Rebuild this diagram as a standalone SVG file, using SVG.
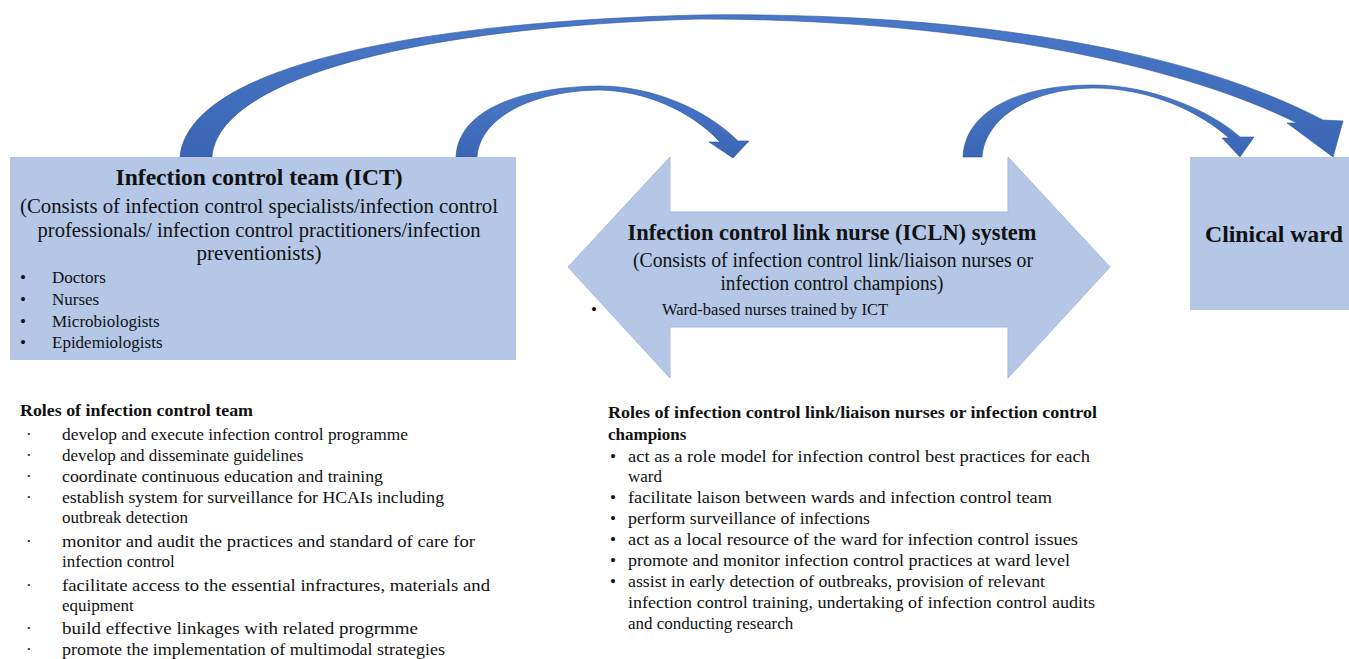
<svg xmlns="http://www.w3.org/2000/svg" width="1349" height="659" viewBox="0 0 1349 659">
<defs>
<linearGradient id="arcg" x1="0" y1="0" x2="0" y2="1">
<stop offset="0" stop-color="#4a78c8"/>
<stop offset="1" stop-color="#3a66b4"/>
</linearGradient>
</defs>
<style>
.box{fill:#b4c7e7;}
.dbl{fill:#b4c7e7;stroke:#a7bbdf;stroke-width:1;}
.arc{fill:url(#arcg);stroke:#2f5597;stroke-width:0.6;}
text{font-family:"Liberation Serif","Times New Roman",serif;fill:#111;}
.t{font-weight:bold;font-size:23px;}
.s{font-size:21px;}
.s2{font-size:20px;}
.b{font-size:17px;}
.h{font-weight:bold;font-size:17px;}
.r{font-size:17px;}
</style>
<rect width="1349" height="659" fill="#ffffff"/>
<g id="connectors">
<path class="arc" d="M180 157 C188 70 400 22 700 15 C950 12 1180 45 1323 120 L1343 121 L1333 157 L1287 123 L1297 123 C1170 60 950 19 700 19 C410 27 218 80 212 157 Z"/>
<path class="arc" d="M456 157 C458 110 520 87 600 86 C650 86 705 108 738 141 L749 141 L733 158 L709 142 L720 142 C690 110 645 91 600 90 C530 91 480 118 477 157 Z"/>
<path class="arc" d="M963 157 C965 110 1020 85 1093 85 C1150 85 1210 110 1240 137 L1254 137 L1240 157 L1222 138 L1229 138 C1200 112 1150 88 1093 88 C1030 89 985 118 982 157 Z"/>
</g>
<g id="ict">
<rect class="box" x="10" y="157" width="506" height="203"/>
<text class="t" x="259" y="185" text-anchor="middle" textLength="287" lengthAdjust="spacingAndGlyphs">Infection control team (ICT)</text>
<text class="s" x="259" y="213" text-anchor="middle" textLength="478" lengthAdjust="spacingAndGlyphs">(Consists of infection control specialists/infection control</text>
<text class="s" x="259" y="237" text-anchor="middle" textLength="443" lengthAdjust="spacingAndGlyphs">professionals/ infection control practitioners/infection</text>
<text class="s" x="259" y="260" text-anchor="middle">preventionists)</text>
<text class="b" x="20" y="283">•</text><text class="b" x="52" y="283">Doctors</text>
<text class="b" x="20" y="305">•</text><text class="b" x="52" y="305">Nurses</text>
<text class="b" x="20" y="327">•</text><text class="b" x="52" y="327">Microbiologists</text>
<text class="b" x="20" y="348">•</text><text class="b" x="52" y="348">Epidemiologists</text>
</g>
<g id="icln">
<path class="dbl" d="M568 267 L670 157 L670 212 L1008 212 L1008 157 L1110 267 L1008 378 L1008 327 L670 327 L670 378 Z"/>
<text class="t" x="832" y="240" text-anchor="middle" textLength="409" lengthAdjust="spacingAndGlyphs">Infection control link nurse (ICLN) system</text>
<text class="s2" x="833" y="267" text-anchor="middle" textLength="400" lengthAdjust="spacingAndGlyphs">(Consists of infection control link/liaison nurses or</text>
<text class="s2" x="832" y="290" text-anchor="middle" textLength="223" lengthAdjust="spacingAndGlyphs">infection control champions)</text>
<text class="b" x="591" y="315">•</text><text class="b" x="662" y="315" textLength="226" lengthAdjust="spacingAndGlyphs">Ward-based nurses trained by ICT</text>
</g>
<g id="ward">
<rect class="box" x="1190" y="157" width="159" height="153"/>
<text class="t" x="1205" y="242" textLength="138" lengthAdjust="spacingAndGlyphs" style="font-size:24px">Clinical ward</text>
</g>
<g id="ict-roles">
<text class="h" x="20" y="416" textLength="233" lengthAdjust="spacingAndGlyphs">Roles of infection control team</text>
<g class="r">
<text x="26" y="440">·</text><text x="62" y="440" textLength="346" lengthAdjust="spacingAndGlyphs">develop and execute infection control programme</text>
<text x="26" y="461">·</text><text x="62" y="461">develop and disseminate guidelines</text>
<text x="26" y="482">·</text><text x="62" y="482" textLength="321" lengthAdjust="spacingAndGlyphs">coordinate continuous education and training</text>
<text x="26" y="503">·</text><text x="62" y="503" textLength="382" lengthAdjust="spacingAndGlyphs">establish system for surveillance for HCAIs including</text>
<text x="62" y="523">outbreak detection</text>
<text x="26" y="547">·</text><text x="62" y="547" textLength="413" lengthAdjust="spacingAndGlyphs">monitor and audit the practices and standard of care for</text>
<text x="62" y="567">infection control</text>
<text x="26" y="591">·</text><text x="62" y="591" textLength="428" lengthAdjust="spacingAndGlyphs">facilitate access to the essential infractures, materials and</text>
<text x="62" y="611">equipment</text>
<text x="26" y="634">·</text><text x="62" y="634" textLength="356" lengthAdjust="spacingAndGlyphs">build effective linkages with related progrmme</text>
<text x="26" y="655">·</text><text x="62" y="655" textLength="383" lengthAdjust="spacingAndGlyphs">promote the implementation of multimodal strategies</text>
</g>
</g>
<g id="icln-roles">
<text class="h" x="608" y="418" textLength="489" lengthAdjust="spacingAndGlyphs">Roles of infection control link/liaison nurses or infection control</text>
<text class="h" x="608" y="440">champions</text>
<g class="r">
<text x="610" y="462">•</text><text x="628" y="462" textLength="462" lengthAdjust="spacingAndGlyphs">act as a role model for infection control best practices for each</text>
<text x="628" y="482">ward</text>
<text x="610" y="503">•</text><text x="628" y="503" textLength="424" lengthAdjust="spacingAndGlyphs">facilitate laison between wards and infection control team</text>
<text x="610" y="524">•</text><text x="628" y="524" textLength="242" lengthAdjust="spacingAndGlyphs">perform surveillance of infections</text>
<text x="610" y="545">•</text><text x="628" y="545" textLength="450" lengthAdjust="spacingAndGlyphs">act as a local resource of the ward for infection control issues</text>
<text x="610" y="566">•</text><text x="628" y="566" textLength="442" lengthAdjust="spacingAndGlyphs">promote and monitor infection control practices at ward level</text>
<text x="610" y="587">•</text><text x="628" y="587" textLength="417" lengthAdjust="spacingAndGlyphs">assist in early detection of outbreaks, provision of relevant</text>
<text x="628" y="608" textLength="467" lengthAdjust="spacingAndGlyphs">infection control training, undertaking of infection control audits</text>
<text x="628" y="629">and conducting research</text>
</g>
</g>
</svg>
